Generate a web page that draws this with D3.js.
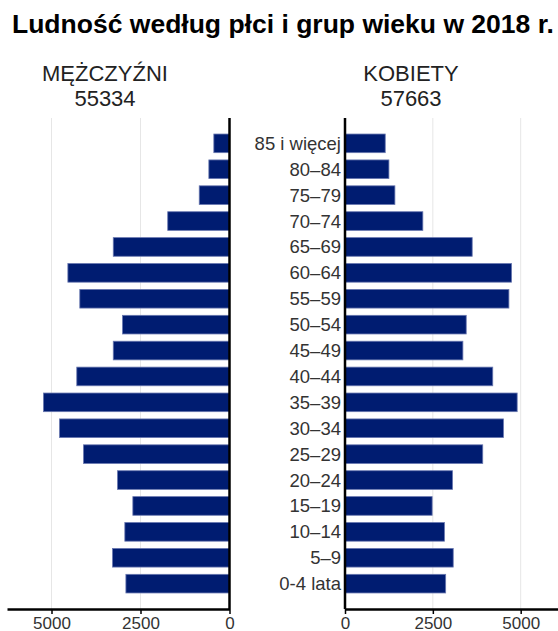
<!DOCTYPE html>
<html>
<head>
<meta charset="utf-8">
<script src="https://cdn.jsdelivr.net/npm/d3@7"></script>
<style>
  body { margin: 0; background: #fff; }
  text { font-family: 'Liberation Sans', Arial, sans-serif; }
  .tick text { fill: #333; font-size: 17px; }
</style>
</head>
<body>
<div id="chart"></div>
<script>
// data
var ages = ['85 i więcej', '80–84', '75–79', '70–74', '65–69', '60–64', '55–59', '50–54',
            '45–49', '40–44', '35–39', '30–34', '25–29', '20–24', '15–19', '10–14', '5–9', '0-4 lata'];
var men = [440, 580, 850, 1735, 3265, 4540, 4205, 3005, 3265, 4290, 5225, 4775, 4100, 3145, 2715, 2940, 3285, 2910];
var women = [1145, 1250, 1420, 2215, 3620, 4740, 4665, 3450, 3355, 4205, 4900, 4510, 3920, 3060, 2480, 2830, 3080, 2865];
var totals = [55334, 57663];
var groups = ['MĘŻCZYŹNI', 'KOBIETY'];
var ticks = [0, 2500, 5000];

var width = 558, height = 631;
var plotTop = 118, plotBottom = 609;
var barColor = '#001c71';

var svg = d3.select('#chart')
    .append('svg')
    .attr('width', width)
    .attr('height', height);

// scales
var xL = d3.scaleLinear().domain([0, 6250]).range([229.5, 7]);
var xR = d3.scaleLinear().domain([0, 6250]).range([345, 564.6]);
var y = d3.scaleBand()
    .domain(ages)
    .range([130.4, 596.6])
    .paddingInner(0.28)
    .paddingOuter(0.14);

// grid
function grid(scale) {
    svg.append('g').selectAll('line')
        .data(ticks.slice(1))
        .enter()
        .append('line')
        .attr('x1', function(d){ return scale(d); })
        .attr('x2', function(d){ return scale(d); })
        .attr('y1', plotTop)
        .attr('y2', plotBottom)
        .attr('stroke', '#e6e6e6')
        .attr('stroke-width', 1);
}
grid(xL);
grid(xR);

// bars
svg.append('g').selectAll('rect')
    .data(men)
    .enter()
    .append('rect')
    .attr('x', function(d){ return xL(d); })
    .attr('y', function(d, i){ return y(ages[i]); })
    .attr('width', function(d){ return xL(0) - xL(d); })
    .attr('height', y.bandwidth())
    .attr('fill', barColor)
    .attr('stroke', '#6877b0')
    .attr('stroke-width', 0.8);

svg.append('g').selectAll('rect')
    .data(women)
    .enter()
    .append('rect')
    .attr('x', xR(0))
    .attr('y', function(d, i){ return y(ages[i]); })
    .attr('width', function(d){ return xR(d) - xR(0); })
    .attr('height', y.bandwidth())
    .attr('fill', barColor)
    .attr('stroke', '#6877b0')
    .attr('stroke-width', 0.8);

// age labels
svg.append('g').selectAll('text')
    .data(ages)
    .enter()
    .append('text')
    .attr('x', 341)
    .attr('y', function(d){ return y(d) + y.bandwidth() / 2; })
    .attr('dy', '0.35em')
    .attr('text-anchor', 'end')
    .attr('fill', '#333')
    .style('font-size', '18.5px')
    .text(function(d){ return d; });

// axes
function axis(g) {
    g.select('.domain').attr('stroke', '#000').attr('stroke-width', 2.5);
    g.selectAll('.tick line').attr('stroke', '#000').attr('stroke-width', 1.5);
}
svg.append('g')
    .attr('transform', 'translate(0,' + plotBottom + ')')
    .call(d3.axisBottom(xL).tickValues(ticks).tickSize(5).tickSizeOuter(0).tickFormat(d3.format('d')))
    .call(axis);
svg.append('g')
    .attr('transform', 'translate(0,' + plotBottom + ')')
    .call(d3.axisBottom(xR).tickValues(ticks).tickSize(5).tickSizeOuter(0).tickFormat(d3.format('d')))
    .call(axis);

[xL(0), xR(0)].forEach(function(x){
    svg.append('line')
        .attr('x1', x).attr('x2', x)
        .attr('y1', plotTop).attr('y2', plotBottom)
        .attr('stroke', '#000')
        .attr('stroke-width', 2.5);
});

// headers
var hx = [105, 411];
groups.forEach(function(g, i){
    svg.append('text')
        .attr('x', hx[i]).attr('y', 81)
        .attr('text-anchor', 'middle')
        .attr('fill', '#222')
        .style('font-size', '22px')
        .text(g);
    svg.append('text')
        .attr('x', hx[i]).attr('y', 106)
        .attr('text-anchor', 'middle')
        .attr('fill', '#222')
        .style('font-size', '22px')
        .text(totals[i]);
});

// title
svg.append('text')
    .attr('x', 12)
    .attr('y', 33)
    .attr('fill', '#000')
    .style('font-size', '26.5px')
    .style('font-weight', 'bold')
    .text('Ludność według płci i grup wieku w 2018 r.');
</script>
</body>
</html>
